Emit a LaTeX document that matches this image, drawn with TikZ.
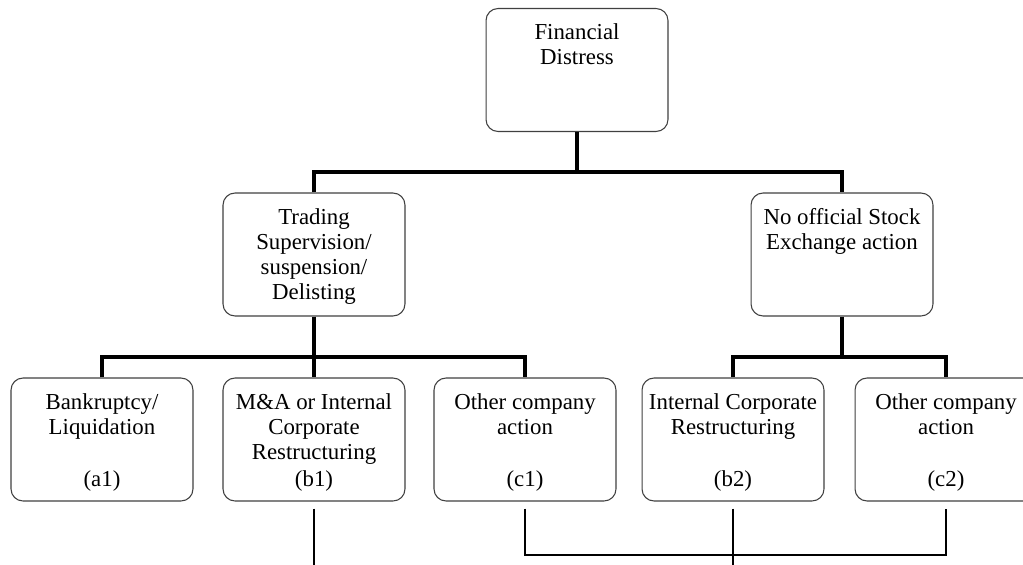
\documentclass[tikz,border=0pt]{standalone}
\usepackage{fontspec}
\setmainfont{Liberation Serif}
\usetikzlibrary{positioning}
\newcommand{\boxfont}{\fontsize{13}{14.2}\selectfont}
\newcommand{\boxtext}[1]{\parbox[c][2.46cm][t]{3.64cm}{\centering\vspace*{0.31cm}#1\par\vspace*{0.2cm}}}

\begin{document}
\begin{tikzpicture}[x=0.02cm,y=-0.02cm,
  box/.style={draw=black!75,line width=0.6pt,rounded corners=0.24cm,fill=white,inner sep=0pt,font=\boxfont},
  trunk/.style={line width=2.6pt},
  feed/.style={line width=1.2pt}]%
\useasboundingbox (0,0) rectangle (1023,564);%%
\clip (0,0) rectangle (1023,564);%%
%%BOITES
\node[box] (distress) at (577,70) {\boxtext{Financial\\Distress}};%%
\node[box] (trading) at (314,254.5) {\boxtext{Trading\\Supervision/\\suspension/\\Delisting}};%%
\node[box] (noaction) at (842,254.5) {\boxtext{No official Stock\\Exchange action}};%%
\node[box] (bankrupt) at (102,439.5) {\boxtext{Bankruptcy/\\Liquidation\par\vfill(a1)}};%%
\node[box] (merger) at (314,439.5) {\boxtext{M\&A or Internal\\Corporate\\Restructuring\par\vfill(b1)}};%%
\node[box] (otherone) at (525,439.5) {\boxtext{Other company\\action\par\vfill(c1)}};%%
\node[box] (internal) at (733,439.5) {\boxtext{Internal Corporate\\Restructuring\par\vfill(b2)}};%%
\node[box] (othertwo) at (946,439.5) {\boxtext{Other company\\action\par\vfill(c2)}};%%
%%JONCTIONS
\coordinate (topjoin) at (577,172);%%
\coordinate (leftjoin) at (314,357);%%
\coordinate (rightjoin) at (842,357);%%
\coordinate (lowjoin) at (733,555);%%
\coordinate (mergerfoot) at (314,570);%%
\coordinate (internalfoot) at (733,570);%%
%%TRAITS EPAIS
\draw[trunk] (distress) -- (topjoin);%%
\draw[trunk] (trading.north) |- (topjoin) -| (noaction.north);%%
\draw[trunk] (trading) -- (leftjoin);%%
\draw[trunk] (bankrupt.north) |- (leftjoin) -| (otherone.north);%%
\draw[trunk] (leftjoin) -- (merger.north);%%
\draw[trunk] (noaction) -- (rightjoin);%%
\draw[trunk] (internal.north) |- (rightjoin) -| (othertwo.north);%%
%%TRAITS FINS
\draw[feed,shorten <=0.14cm] (merger.south) -- (mergerfoot);%%
\draw[feed,shorten <=0.14cm] (internal.south) -- (internalfoot);%%
\draw[feed,shorten <=0.14cm,shorten >=0.14cm] (otherone.south) |- (lowjoin) -| (othertwo.south);%%
\end{tikzpicture}
\end{document}
